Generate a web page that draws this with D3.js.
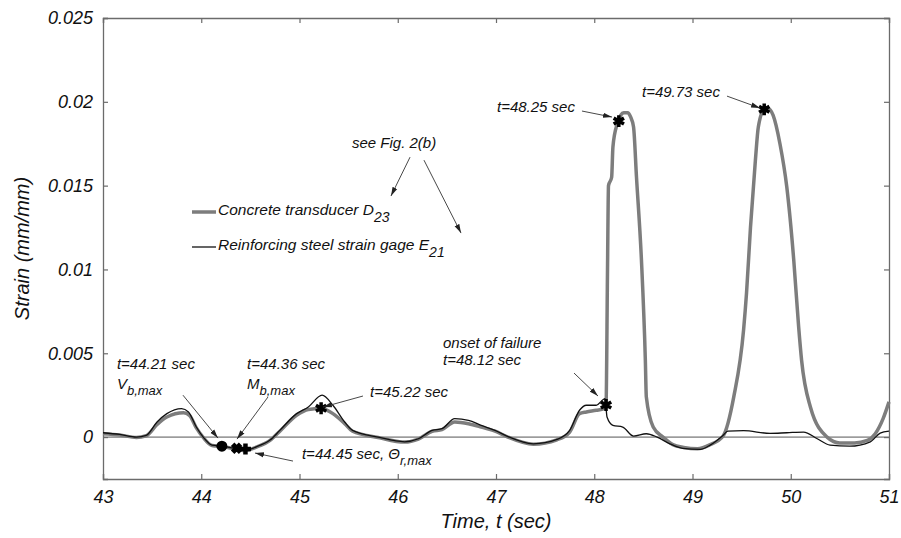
<!DOCTYPE html>
<html>
<head>
<meta charset="utf-8">
<script src="https://cdn.jsdelivr.net/npm/d3@7"></script>
<style>
  body { margin: 0; background: #fff; }
  text { font-family: "Liberation Sans", Arial, sans-serif; font-style: italic; }
</style>
</head>
<body>
<script>
// Concrete transducer D23 (thick gray line)
var concreteTime = [43.00, 43.17, 43.34, 43.44, 43.55, 43.65, 43.82, 43.88, 43.95, 44.02,
  44.11, 44.21, 44.36, 44.45, 44.56, 44.70, 44.80, 44.97, 45.09, 45.22,
  45.34, 45.46, 45.54, 45.80, 46.07, 46.21, 46.35, 46.45, 46.58, 46.72,
  46.85, 46.99, 47.11, 47.38, 47.62, 47.75, 47.85, 47.92, 48.02, 48.10,
  48.12, 48.135, 48.145, 48.177, 48.19, 48.23, 48.25, 48.27, 48.30, 48.34,
  48.37, 48.40, 48.43, 48.48, 48.52, 48.53, 48.60, 48.70, 48.80, 48.91,
  49.05, 49.18, 49.31, 49.42, 49.52, 49.55, 49.59, 49.64, 49.67, 49.73,
  49.77, 49.82, 49.89, 49.96, 50.03, 50.08, 50.11, 50.20, 50.37, 50.50,
  50.65, 50.78, 50.86, 50.94, 51.00];
var concreteStrain = [0.00020, 0.00012, -0.00002, 0.00008, 0.00075, 0.00120, 0.00145, 0.00130, 0.00055, -0.00002,
  -0.00050, -0.00056, -0.00072, -0.00080, -0.00060, -0.00020, 0.00035, 0.00130, 0.00165, 0.00170,
  0.00140, 0.00080, 0.00035, -0.00002, -0.00030, -0.00012, 0.00035, 0.00045, 0.00090, 0.00080,
  0.00060, 0.00035, 0.00003, -0.00042, -0.00016, 0.00030, 0.00140, 0.00150, 0.00160, 0.00170,
  0.00190, 0.01000, 0.01500, 0.01550, 0.01730, 0.01860, 0.01885, 0.01920, 0.01935, 0.01935,
  0.01910, 0.01850, 0.01550, 0.01060, 0.00460, 0.00240, 0.00060, 0.00000, -0.00045, -0.00062,
  -0.00070, -0.00045, 0.00005, 0.00240, 0.00640, 0.00860, 0.01250, 0.01650, 0.01850, 0.01955,
  0.01960, 0.01920, 0.01750, 0.01490, 0.01060, 0.00660, 0.00460, 0.00180, 0.00000, -0.00035,
  -0.00035, -0.00020, 0.00020, 0.00110, 0.00210];

// Reinforcing steel strain gage E21 (thin black line)
var steelTime = [43.00, 43.17, 43.34, 43.44, 43.55, 43.65, 43.80, 43.87, 43.95, 44.02,
  44.11, 44.21, 44.36, 44.45, 44.56, 44.70, 44.80, 44.97, 45.09, 45.23,
  45.34, 45.46, 45.54, 45.80, 46.07, 46.21, 46.35, 46.45, 46.58, 46.72,
  46.85, 46.99, 47.11, 47.38, 47.62, 47.75, 47.85, 47.92, 48.02, 48.11,
  48.13, 48.19, 48.29, 48.40, 48.53, 48.64, 48.77, 48.90, 49.08, 49.18,
  49.31, 49.36, 49.52, 49.79, 49.96, 50.13, 50.27, 50.40, 50.60, 50.81,
  50.91, 51.00];
var steelStrain = [0.00026, 0.00016, 0.00000, 0.00010, 0.00090, 0.00140, 0.00170, 0.00150, 0.00060, 0.00000,
  -0.00048, -0.00054, -0.00070, -0.00078, -0.00058, -0.00018, 0.00040, 0.00140, 0.00180, 0.00250,
  0.00190, 0.00090, 0.00040, 0.00000, -0.00028, -0.00010, 0.00040, 0.00050, 0.00110, 0.00100,
  0.00070, 0.00040, 0.00006, -0.00040, -0.00014, 0.00040, 0.00160, 0.00190, 0.00190, 0.00230,
  0.00120, 0.00070, 0.00060, 0.00006, 0.00020, 0.00000, -0.00040, -0.00067, -0.00073, -0.00048,
  0.00010, 0.00036, 0.00038, 0.00022, 0.00026, 0.00030, -0.00010, -0.00048, -0.00054, -0.00028,
  0.00024, 0.00036];

// Marked instants
var markTime = [44.21, 44.36, 44.45, 45.22, 48.12, 48.25, 49.73];
var markStrain = [-0.00054, -0.00067, -0.00071, 0.00172, 0.00191, 0.01885, 0.01955];
var markShape = ["circle", "x", "plus", "star", "star", "star", "star"];

// Tick labels
var xTicks = [43, 44, 45, 46, 47, 48, 49, 50, 51];
var yTicks = [0, 0.005, 0.01, 0.015, 0.02, 0.025];
var yTickLabels = ["0", "0.005", "0.01", "0.015", "0.02", "0.025"];

// Annotation texts: anchor (t, strain) of the text, main text and subscript
var noteText = [
  {t: 43.142, s: 0.00406, main: "t=44.21 sec", sub: ""},
  {t: 43.142, s: 0.00287, main: "V", sub: "b,max"},
  {t: 44.466, s: 0.00406, main: "t=44.36 sec", sub: ""},
  {t: 44.466, s: 0.00287, main: "M", sub: "b,max"},
  {t: 45.718, s: 0.00239, main: "t=45.22 sec", sub: ""},
  {t: 45.025, s: -0.00131, main: "t=44.45 sec, \u0398", sub: "r,max"},
  {t: 46.461, s: 0.00531, main: "onset of failure", sub: ""},
  {t: 46.461, s: 0.00430, main: "t=48.12 sec", sub: ""},
  {t: 47.010, s: 0.01939, main: "t=48.25 sec", sub: ""},
  {t: 48.486, s: 0.02029, main: "t=49.73 sec", sub: ""},
  {t: 45.534, s: 0.01725, main: "see Fig. 2(b)", sub: ""}
];
// Annotation arrows: from (t0, s0) to (t1, s1)
var noteArrows = [
  [43.814, 0.00250, 44.170, -0.00006],
  [44.679, 0.00239, 44.364, -0.00012],
  [44.934, -0.00143, 44.547, -0.00095],
  [45.646, 0.00245, 45.239, 0.00179],
  [47.794, 0.00382, 48.038, 0.00245],
  [47.875, 0.01945, 48.181, 0.01909],
  [49.351, 0.02034, 49.687, 0.01963],
  [46.125, 0.01670, 45.931, 0.01438],
  [46.267, 0.01652, 46.644, 0.01217]
];

var seriesNames = ["Concrete transducer D", "Reinforcing steel strain gage E"];
var seriesSubs = ["23", "21"];

var width = 901, height = 538;
var margin = {top: 18, right: 12, bottom: 59, left: 103};

var svg = d3.select("body").append("svg")
    .attr("width", width)
    .attr("height", height);

var x = d3.scaleLinear().domain([43, 51]).range([margin.left, width - margin.right]);
var y = d3.scaleLinear().domain([-0.0025, 0.025]).range([height - margin.bottom, margin.top]);

var axisColor = "#6b6b6b";

// zero reference line
svg.append("line")
    .attr("x1", x(43)).attr("x2", x(51))
    .attr("y1", y(0)).attr("y2", y(0))
    .attr("stroke", "#555").attr("stroke-width", 1);

// axes, ticks pointing inward
var gx = svg.append("g")
    .attr("transform", "translate(0," + y.range()[0] + ")")
    .call(d3.axisBottom(x).tickValues(xTicks).tickSize(-5).tickPadding(11).tickFormat(d3.format("d")));
var gxTop = svg.append("g")
    .attr("transform", "translate(0," + y.range()[1] + ")")
    .call(d3.axisTop(x).tickValues(xTicks).tickSize(-5).tickFormat(""));
var gy = svg.append("g")
    .attr("transform", "translate(" + x.range()[0] + ",0)")
    .call(d3.axisLeft(y).tickValues(yTicks).tickSize(-5).tickPadding(10)
      .tickFormat(function(d, i){ return yTickLabels[i]; }));
var gyRight = svg.append("g")
    .attr("transform", "translate(" + x.range()[1] + ",0)")
    .call(d3.axisRight(y).tickValues(yTicks).tickSize(-5).tickFormat(""));

[gx, gxTop, gy, gyRight].forEach(function(g){
  g.selectAll("path.domain").attr("stroke", axisColor).attr("stroke-width", 1.3);
  g.selectAll(".tick line").attr("stroke", axisColor).attr("stroke-width", 1.2);
  g.selectAll(".tick text")
    .attr("fill", "#111")
    .style("font-size", "18px")
    .style("font-family", "'Liberation Sans', Arial, sans-serif")
    .style("font-style", "italic");
});

// axis titles
svg.append("text")
    .attr("x", (x.range()[0] + x.range()[1]) / 2)
    .attr("y", 528)
    .attr("text-anchor", "middle")
    .style("font-size", "20px")
    .attr("fill", "#111")
    .text("Time, t (sec)");
svg.append("text")
    .attr("transform", "translate(29," + (y.range()[0] + y.range()[1]) / 2 + ") rotate(-90)")
    .attr("text-anchor", "middle")
    .style("font-size", "20px")
    .attr("fill", "#111")
    .text("Strain (mm/mm)");

// curves
var line = d3.line()
    .x(function(d){ return x(d[0]); })
    .y(function(d){ return y(d[1]); })
    .curve(d3.curveMonotoneX);

var concrete = d3.zip(concreteTime, concreteStrain);
var steel = d3.zip(steelTime, steelStrain);

svg.append("path")
    .datum(concrete)
    .attr("d", line)
    .attr("fill", "none")
    .attr("stroke", "#7d7d7d")
    .attr("stroke-width", 3.5)
    .attr("stroke-linejoin", "round");

svg.append("path")
    .datum(steel)
    .attr("d", line)
    .attr("fill", "none")
    .attr("stroke", "#111")
    .attr("stroke-width", 1.3)
    .attr("stroke-linejoin", "round");

// markers
var marks = d3.zip(markTime, markStrain, markShape);
marks.forEach(function(m){
  var g = svg.append("g").attr("transform", "translate(" + x(m[0]) + "," + y(m[1]) + ")");
  if(m[2] == "circle"){
    g.append("circle").attr("r", 5.5).attr("fill", "#000");
  }
  else if(m[2] == "x"){
    g.append("path").attr("d", "M-4,-4L4,4M-4,4L4,-4")
      .attr("stroke", "#000").attr("stroke-width", 5);
  }
  else if(m[2] == "plus"){
    g.append("path").attr("d", "M-5.5,0L5.5,0M0,-5.5L0,5.5")
      .attr("stroke", "#000").attr("stroke-width", 4.5);
  }
  else{
    g.append("path").attr("d", d3.symbol(d3.symbolAsterisk, 100)())
      .attr("fill", "none").attr("stroke", "#000").attr("stroke-width", 3.5);
  }
});

// arrowhead
svg.append("defs").append("marker")
    .attr("id", "head")
    .attr("markerUnits", "userSpaceOnUse")
    .attr("viewBox", "0 -3 9 6")
    .attr("refX", 9).attr("refY", 0)
    .attr("markerWidth", 9).attr("markerHeight", 6)
    .attr("orient", "auto")
  .append("path")
    .attr("d", "M0,-2.6L9,0L0,2.6Z")
    .attr("fill", "#222");

svg.selectAll(".arrow")
    .data(noteArrows)
    .enter()
    .append("line")
    .attr("class", "arrow")
    .attr("x1", function(d){ return x(d[0]); })
    .attr("y1", function(d){ return y(d[1]); })
    .attr("x2", function(d){ return x(d[2]); })
    .attr("y2", function(d){ return y(d[3]); })
    .attr("stroke", "#333")
    .attr("stroke-width", 0.9)
    .attr("marker-end", "url(#head)");

// annotation texts
var notes = svg.selectAll(".note")
    .data(noteText)
    .enter()
    .append("text")
    .attr("class", "note")
    .attr("x", function(d){ return x(d.t); })
    .attr("y", function(d){ return y(d.s); })
    .style("font-size", "15px")
    .attr("fill", "#111");
notes.append("tspan").text(function(d){ return d.main; });
notes.append("tspan")
    .attr("dy", 6)
    .style("font-size", "13px")
    .text(function(d){ return d.sub; });

// legend
var legendX = 192, legendY = [212, 247];
seriesNames.forEach(function(name, i){
  svg.append("line")
      .attr("x1", legendX).attr("x2", legendX + 24)
      .attr("y1", legendY[i]).attr("y2", legendY[i])
      .attr("stroke", i == 0 ? "#7d7d7d" : "#111")
      .attr("stroke-width", i == 0 ? 3.5 : 1.3);
  var t = svg.append("text")
      .attr("x", legendX + 26)
      .attr("y", legendY[i] + 3)
      .style("font-size", "15.5px")
      .attr("fill", "#111");
  t.append("tspan").text(name);
  t.append("tspan").attr("dy", 7).style("font-size", "14px").text(seriesSubs[i]);
});
</script>
</body>
</html>
